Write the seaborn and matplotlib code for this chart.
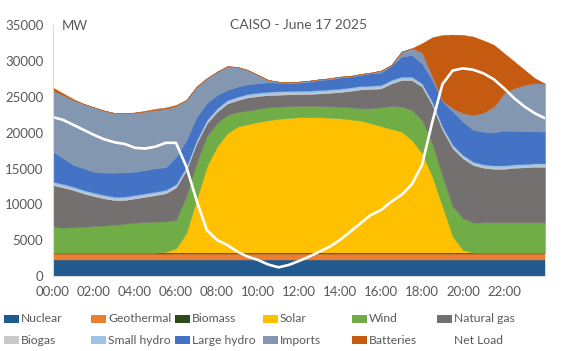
import numpy as np
import pandas as pd
import matplotlib
matplotlib.use('Agg')
import matplotlib.pyplot as plt
import seaborn as sns
from matplotlib.patches import Rectangle
from matplotlib.lines import Line2D

# half-hourly readings, 00:00 .. 24:00 (MW)
hours = np.linspace(0, 24, 49)

nuclear = [2230, 2230, 2230, 2230, 2230, 2230, 2230, 2230, 2230, 2230, 2230, 2230, 2230,
           2230, 2230, 2230, 2230, 2230, 2230, 2230, 2230, 2230, 2230, 2230, 2230, 2230,
           2230, 2230, 2230, 2230, 2230, 2230, 2230, 2230, 2230, 2230, 2230, 2230, 2230,
           2230, 2230, 2230, 2230, 2230, 2230, 2230, 2230, 2230, 2230]
geothermal = [820, 820, 820, 820, 820, 820, 820, 820, 820, 820, 820, 820, 820,
              820, 820, 820, 820, 820, 820, 820, 820, 820, 820, 820, 820, 820,
              820, 820, 820, 820, 820, 820, 820, 820, 820, 820, 820, 820, 820,
              820, 820, 820, 820, 820, 820, 820, 820, 820, 820]
biomass = [230, 230, 230, 230, 230, 230, 230, 230, 230, 230, 230, 230, 230,
           230, 230, 230, 230, 230, 230, 230, 230, 230, 230, 230, 230, 230,
           230, 230, 230, 230, 230, 230, 230, 230, 230, 230, 230, 230, 230,
           230, 230, 230, 230, 230, 230, 230, 230, 230, 230]
solar = [0, 0, 0, 0, 0, 0, 0, 0, 0, 0, 0, 100, 590,
         2680, 7340, 11990, 14790, 16650, 17580, 17920, 18220, 18470, 18670, 18770, 18890,
         18890, 18890, 18820, 18750, 18590, 18420, 18050, 17650, 17250, 16880, 15720, 13860,
         10600, 6410, 2220, 350, 0, 0, 0, 0, 0, 0, 0, 0]
wind = [3610, 3470, 3520, 3570, 3710, 3770, 3850, 4020, 4170, 4240, 4310, 4250, 3950,
        5120, 5120, 4290, 3260, 2560, 2040, 1900, 1830, 1810, 1710, 1650, 1580,
        1580, 1580, 1600, 1630, 1690, 1720, 2090, 2630, 3220, 3500, 4190, 4650,
        4650, 4190, 4190, 4430, 4170, 4220, 4220, 4220, 4220, 4220, 4220, 4220]
natural_gas = [5810, 5620, 5200, 4680, 4170, 3790, 3470, 3320, 3390, 3550, 3710, 3930, 4550,
               3710, 2780, 1750, 1620, 1600, 1670, 1850, 1800, 1710, 1660, 1670, 1660,
               1670, 1750, 1890, 2030, 2310, 2640, 2700, 2640, 3150, 3710, 4180, 4650,
               5350, 6500, 8130, 8360, 8040, 7620, 7470, 7470, 7620, 7670, 7760, 7760]
biogas = [180, 180, 180, 180, 180, 180, 180, 180, 180, 180, 180, 180, 180,
          180, 180, 180, 180, 180, 180, 180, 180, 180, 180, 180, 180, 180,
          180, 180, 180, 180, 180, 180, 180, 180, 180, 180, 180, 180, 180,
          180, 180, 180, 180, 180, 180, 180, 180, 180, 180]
small_hydro = [300, 300, 300, 300, 300, 300, 300, 300, 300, 300, 300, 300, 300,
               300, 300, 300, 300, 300, 300, 300, 300, 300, 300, 300, 300, 300,
               300, 300, 300, 300, 300, 300, 300, 300, 300, 300, 300, 300, 300,
               300, 300, 300, 300, 300, 300, 300, 300, 300, 300]
large_hydro = [4190, 3590, 3030, 3030, 2940, 3120, 3360, 3400, 3260, 3260, 3260, 3160, 3800,
               3700, 3200, 2340, 1860, 1420, 1400, 1350, 1310, 1310, 1210, 1110, 1120,
               1250, 1400, 1410, 1540, 1500, 1540, 1700, 1730, 2000, 2790, 3030, 2790,
               3020, 3500, 4660, 4660, 4430, 4560, 4620, 4850, 4700, 4600, 4460, 4420]
imports = [8530, 8810, 9040, 9010, 8980, 8660, 8330, 8230, 8240, 8150, 8150, 8150,
           7100, 5620, 4250, 3490, 3260, 3310, 2750, 2000, 1160, 320, 140, 120,
           140, 140, 100, 140, 140, 90, 140, 110, 290, 100, 700, 930,
           1500, 470, 100, 460, 1170, 2090, 2660, 3590, 5220, 5920, 6430, 6720, 6710]
batteries = [410, 250, 150, 0, 0, 0, 0, 20, 30, 120, 160, 180, 150, 10,
             0, 0, 0, 0, 0, 0, 0, 0, 0, 0, 0, 0, 0, 0, 0, 0, 0, 0, 0, 0, 0, 0,
             1300, 5490, 9210, 10300, 10940, 10950, 10080, 8640, 5610, 3750, 2120, 720, 0]
net_load = [22200, 21790, 21100, 20400, 19700, 19090, 18670, 18440, 17900, 17800, 18070, 18600, 18600,
            15300, 10600, 6430, 5030, 4330, 3400, 2700, 2240, 1600, 1210, 1540, 2100,
            2700, 3400, 4100, 5030, 6190, 7360, 8520, 9220, 10390, 11320, 12800, 15500,
            21500, 26800, 28700, 29000, 28800, 28300, 27480, 26220, 24820, 23660, 22730, 22030]

labels = ['Nuclear', 'Geothermal', 'Biomass', 'Solar', 'Wind', 'Natural gas',
          'Biogas', 'Small hydro', 'Large hydro', 'Imports', 'Batteries']
colors = ['#215a8f', '#ed7d31', '#2f4a1c', '#ffc000', '#70ad47', '#747070',
          '#c9c9c9', '#9dc3e6', '#4472c4', '#8497b0', '#c55a11']

df = pd.DataFrame({'hour': hours, 'Nuclear': nuclear, 'Geothermal': geothermal,
                   'Biomass': biomass, 'Solar': solar, 'Wind': wind,
                   'Natural gas': natural_gas, 'Biogas': biogas,
                   'Small hydro': small_hydro, 'Large hydro': large_hydro,
                   'Imports': imports, 'Batteries': batteries, 'Net Load': net_load})

sns.set_style('white')
plt.rcParams['font.family'] = ['Lato', 'DejaVu Sans']
txt = '#595959'
axis_grey = '#d9d9d9'

W, H = 567, 351
fig = plt.figure(figsize=(W / 100, H / 100), dpi=100)
ax = fig.add_axes([53 / W, 1 - 276 / H, (545 - 53) / W, (276 - 25.4) / H])

ax.stackplot(df['hour'], *[df[c] for c in labels], colors=colors,
             edgecolor='face', linewidth=0.3)
sns.lineplot(data=df, x='hour', y='Net Load', color='white', linewidth=1.9, ax=ax)

ax.set_xlim(0, 24)
ax.set_ylim(0, 35000)
ax.set_xticks(range(0, 25))
ax.set_xticklabels(['{:02d}:00'.format(h) if h % 2 == 0 and h < 24 else '' for h in range(25)])
ax.set_yticks(range(0, 35001, 5000))
ax.set_yticklabels([str(v) for v in range(0, 35001, 5000)])
ax.tick_params(axis='both', length=4, width=0.8, color=axis_grey, labelcolor=txt,
               labelsize=9.5, direction='out', pad=3)
ax.set_xlabel('')
ax.set_ylabel('')
for s in ['top', 'right']:
    ax.spines[s].set_visible(False)
for s in ['left', 'bottom']:
    ax.spines[s].set_color(axis_grey)
    ax.spines[s].set_linewidth(0.8)

ax.text(0.5, 1.0, 'CAISO - June 17 2025', transform=ax.transAxes, ha='center',
        va='center', fontsize=10, color=txt)
ax.text(62 / W, 1 - 26 / H, 'MW', transform=fig.transFigure, ha='left',
        va='center', fontsize=9.5, color=txt)

# legend laid out like the spreadsheet one
col_x = [4, 91, 175, 263, 352, 437]
row_y = [319, 340]
entries = labels + ['Net Load']
for i, name in enumerate(entries):
    x0 = col_x[i % 6]
    y0 = row_y[i // 6]
    if name == 'Net Load':
        fig.add_artist(Line2D([x0 / W, (x0 + 15) / W], [1 - y0 / H, 1 - y0 / H],
                              color='white', lw=2, transform=fig.transFigure))
    else:
        fig.add_artist(Rectangle((x0 / W, 1 - (y0 + 4) / H), 15 / W, 8 / H,
                                 facecolor=colors[i], edgecolor='none',
                                 transform=fig.transFigure))
    fig.text((x0 + 17) / W, 1 - y0 / H, name, ha='left', va='center',
             fontsize=8.7, color=txt)

fig.savefig('out.png', dpi=100)
